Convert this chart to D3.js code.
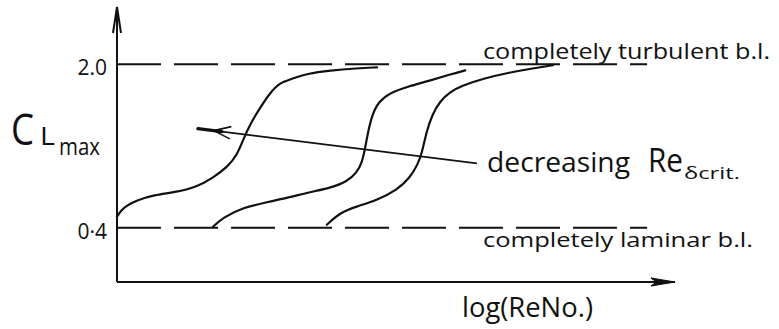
<!DOCTYPE html>
<html>
<head>
<meta charset="utf-8">
<script src="https://cdn.jsdelivr.net/npm/d3@7"></script>
<style>
  html, body { margin: 0; padding: 0; background: #fff; }
  svg { display: block; }
  text { font-family: "Open Sans", "Noto Sans", sans-serif; fill: #111; }
</style>
</head>
<body>
<svg id="chart" width="779" height="329"></svg>
<script>
// Sketch of C_Lmax against log(Re): three transition curves for different Re_delta,crit

// x: log(Re) in arbitrary units, y: C_Lmax
const curveLogRe1 = [0.00, 0.11, 0.36, 0.65, 1.08, 1.43, 1.72, 1.97, 2.15, 2.26, 2.38, 2.56, 2.74, 2.92, 3.10, 3.41, 3.82, 4.30, 4.66];
const curveCL1    = [0.51, 0.60, 0.67, 0.72, 0.75, 0.80, 0.89, 0.99, 1.11, 1.26, 1.41, 1.57, 1.72, 1.82, 1.85, 1.91, 1.94, 1.96, 1.97];

const curveLogRe2 = [1.72, 1.90, 2.26, 2.69, 3.10, 3.46, 3.82, 4.12, 4.30, 4.39, 4.44, 4.50, 4.57, 4.68, 4.89, 5.20, 5.61, 5.97, 6.24];
const curveCL2    = [0.41, 0.50, 0.60, 0.65, 0.70, 0.75, 0.79, 0.85, 0.94, 1.04, 1.16, 1.34, 1.50, 1.63, 1.72, 1.78, 1.84, 1.90, 1.94];

const curveLogRe3 = [3.76, 4.00, 4.30, 4.66, 5.02, 5.25, 5.39, 5.47, 5.54, 5.65, 5.79, 5.97, 6.18, 6.56, 7.04, 7.46, 7.81];
const curveCL3    = [0.43, 0.55, 0.61, 0.67, 0.77, 0.89, 1.02, 1.14, 1.33, 1.51, 1.64, 1.73, 1.79, 1.86, 1.92, 1.96, 1.99];

// limiting boundary-layer states
const boundaryLevels = [2.0, 0.4];
const boundaryLabels = ["completely turbulent b.l.", "completely laminar b.l."];
const tickLabels = ["2.0", "0·4"];
const boundaryEnd = 9.5;

// trend arrow (tail -> head), in data units
const trendTail = [6.45, 1.03];
const trendHead = [1.45, 1.37];

const svg = d3.select("#chart");
const x = d3.scaleLinear().domain([0, 10]).range([117, 675]);
const y = d3.scaleLinear().domain([-0.13, 2.56]).range([282, 7]);

const ink = "#111";

// limiting dashed lines
svg.selectAll("line.level")
  .data(boundaryLevels)
  .join("line")
  .attr("class", "level")
  .attr("x1", x(0)).attr("x2", x(boundaryEnd))
  .attr("y1", d => y(d)).attr("y2", d => y(d))
  .attr("stroke", ink).attr("stroke-width", 2)
  .attr("stroke-dasharray", "44 13");

// boundary-layer state labels
svg.selectAll("text.level-label")
  .data(boundaryLevels)
  .join("text")
  .attr("class", "level-label")
  .attr("x", 483)
  .attr("y", (d, i) => i === 0 ? y(d) - 5 : y(d) + 19)
  .attr("font-size", (d, i) => i === 0 ? 21 : 20)
  .attr("textLength", (d, i) => i === 0 ? 287 : 270)
  .attr("lengthAdjust", "spacingAndGlyphs")
  .text((d, i) => boundaryLabels[i]);

// y axis ticks (labels only)
const yAxis = d3.axisLeft(y)
  .tickValues(boundaryLevels)
  .tickSize(0)
  .tickPadding(10)
  .tickFormat((d, i) => tickLabels[i]);
const gy = svg.append("g").attr("transform", `translate(${x(0)},0)`).call(yAxis);
gy.select(".domain").remove();
gy.selectAll("text")
  .attr("font-size", 21)
  .attr("fill", ink)
  .attr("dy", "0.5em")
  .style("font-family", "'Open Sans', sans-serif");

// axes with arrowheads
const x0 = x(0), yb = y(-0.13);
svg.append("path")
  .attr("d", `M${x0},${yb} L${x0},${y(2.56)}`)
  .attr("stroke", ink).attr("stroke-width", 2).attr("fill", "none");
svg.append("path")
  .attr("d", `M${x0 - 4},${y(2.56) + 26} L${x0},${y(2.56)} L${x0 + 4},${y(2.56) + 26}`)
  .attr("stroke", ink).attr("stroke-width", 2).attr("fill", "none");
svg.append("path")
  .attr("d", `M${x0},${yb} L${x(10)},${yb}`)
  .attr("stroke", ink).attr("stroke-width", 2).attr("fill", "none");
svg.append("path")
  .attr("d", `M${x(10) - 24},${yb - 4} L${x(10)},${yb} L${x(10) - 24},${yb + 4} L${x(10) - 18},${yb} Z`)
  .attr("stroke", ink).attr("stroke-width", 1.2).attr("fill", ink);

// transition curves
const line = d3.line()
  .x(d => x(d[0]))
  .y(d => y(d[1]))
  .curve(d3.curveBasis);

const curves = [
  d3.zip(curveLogRe1, curveCL1),
  d3.zip(curveLogRe2, curveCL2),
  d3.zip(curveLogRe3, curveCL3)
];
svg.selectAll("path.curve")
  .data(curves)
  .join("path")
  .attr("class", "curve")
  .attr("d", line)
  .attr("fill", "none")
  .attr("stroke", ink)
  .attr("stroke-width", 2.2)
  .attr("stroke-linecap", "round");

// trend arrow
const tx0 = x(trendTail[0]), ty0 = y(trendTail[1]);
const tx1 = x(trendHead[0]), ty1 = y(trendHead[1]);
svg.append("line")
  .attr("x1", tx0).attr("y1", ty0).attr("x2", tx1).attr("y2", ty1)
  .attr("stroke", ink).attr("stroke-width", 1.8);
const ang = Math.atan2(ty0 - ty1, tx0 - tx1);
const ux = Math.cos(ang), uy = Math.sin(ang);
// thick shaft near the head
svg.append("line")
  .attr("x1", tx1).attr("y1", ty1)
  .attr("x2", tx1 + ux * 24).attr("y2", ty1 + uy * 24)
  .attr("stroke", ink).attr("stroke-width", 3.4).attr("stroke-linecap", "round");
const hx = tx1 + ux * 16, hy = ty1 + uy * 16;
const wing = 18, spread = 0.35;
svg.append("path")
  .attr("d", `M${hx + Math.cos(ang - spread) * wing},${hy + Math.sin(ang - spread) * wing} L${hx},${hy} L${hx + Math.cos(ang + spread) * wing},${hy + Math.sin(ang + spread) * wing}`)
  .attr("stroke", ink).attr("stroke-width", 1.6).attr("fill", "none");

// annotation
const note = svg.append("text").attr("x", 487).attr("y", 172);
note.append("tspan")
  .attr("font-size", 28).attr("textLength", 143).attr("lengthAdjust", "spacingAndGlyphs")
  .text("decreasing");
note.append("tspan").attr("x", 648)
  .attr("font-size", 32).attr("textLength", 35).attr("lengthAdjust", "spacingAndGlyphs")
  .text("Re");
note.append("tspan").attr("x", 684).attr("dy", 7)
  .attr("font-size", 17).attr("textLength", 56).attr("lengthAdjust", "spacingAndGlyphs")
  .text("δcrit.");

// y axis title
const title = svg.append("text").attr("x", 11).attr("y", 145);
title.append("tspan")
  .attr("font-size", 44).attr("textLength", 23).attr("lengthAdjust", "spacingAndGlyphs")
  .text("C");
title.append("tspan").attr("x", 40)
  .attr("font-size", 25).attr("textLength", 15).attr("lengthAdjust", "spacingAndGlyphs")
  .text("L");
title.append("tspan").attr("x", 59).attr("dy", 10)
  .attr("font-size", 23).attr("textLength", 41).attr("lengthAdjust", "spacingAndGlyphs")
  .text("max");

// x axis title
svg.append("text").attr("x", 462).attr("y", 317)
  .attr("font-size", 28).attr("textLength", 131).attr("lengthAdjust", "spacingAndGlyphs")
  .text("log(ReNo.)");
</script>
</body>
</html>
